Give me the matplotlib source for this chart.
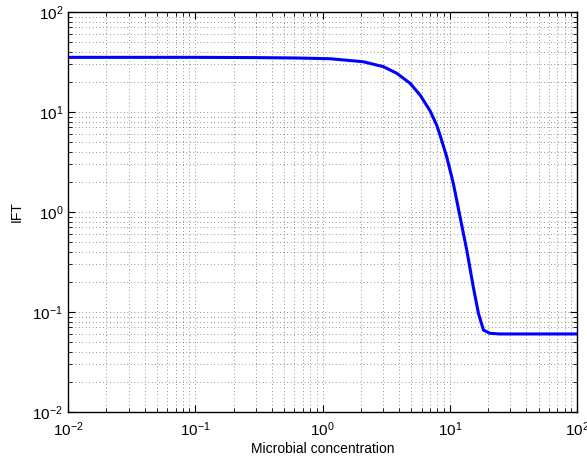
import matplotlib
matplotlib.use('Agg')
import matplotlib.pyplot as plt
import numpy as np
from matplotlib.ticker import LogLocator, NullFormatter

# values
conc = [0.01, 0.1, 0.3, 0.6, 1.146, 2.09, 3.01, 3.83, 4.87, 5.84, 7.0, 7.89, 8.38,
        9.46, 10.66, 12.04, 13.6, 15.3, 16.8, 18.4, 20.7, 24.8, 100.0]
ift = [35.2, 35.2, 35.0, 34.7, 34.1, 31.8, 28.4, 24.4, 19.4, 14.8, 10.3, 7.4, 5.9,
       3.57, 1.94, 0.898, 0.417, 0.179, 0.097, 0.066, 0.0612, 0.0603, 0.0603]

plt.rcParams['font.family'] = ['Liberation Sans', 'DejaVu Sans']
plt.rcParams['mathtext.fontset'] = 'custom'
plt.rcParams['mathtext.rm'] = 'Liberation Sans'
plt.rcParams['mathtext.it'] = 'Liberation Sans'

fig = plt.figure(figsize=(5.87, 4.65), dpi=100)
ax = fig.add_axes([68/587, 53/465, 509/587, 400/465])

ax.loglog(conc, ift, color='#0000ff', lw=2.2, solid_joinstyle='round')
ax.set_xlim(1e-2, 1e2)
ax.set_ylim(1e-2, 1e2)

ax.xaxis.set_major_locator(LogLocator(base=10, numticks=10))
ax.yaxis.set_major_locator(LogLocator(base=10, numticks=10))
ax.xaxis.set_minor_locator(LogLocator(base=10, subs=np.arange(2, 10), numticks=20))
ax.yaxis.set_minor_locator(LogLocator(base=10, subs=np.arange(2, 10), numticks=20))
ax.xaxis.set_minor_formatter(NullFormatter())
ax.yaxis.set_minor_formatter(NullFormatter())

ax.grid(True, which='both', linestyle=(0, (1, 4)), color='#333333', lw=0.5)

ax.tick_params(which='both', direction='in', top=True, right=True, labelsize=11)
ax.tick_params(which='major', length=5, width=0.8)
ax.tick_params(which='minor', length=3, width=0.6)
ax.tick_params(axis='x', pad=6)
for s in ax.spines.values():
    s.set_linewidth(1.0)

ax.set_xlabel('Microbial concentration', fontsize=10, labelpad=2)
ax.set_ylabel('IFT', fontsize=10, labelpad=6)

fig.savefig('out.png', dpi=100)
